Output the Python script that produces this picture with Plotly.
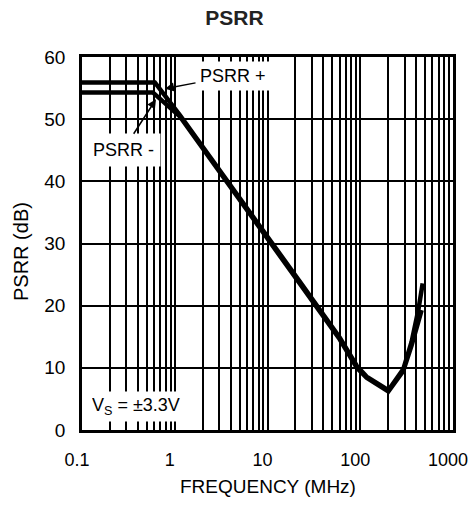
import plotly.graph_objects as go

# Data (frequency in MHz, PSRR in dB)
freq_pos = [0.1, 0.61, 1.14, 2.0, 5.0, 10.0, 22.0, 60.0, 92.0, 117.0, 201.0, 291.0, 358.0, 423.0, 471.0]
psrr_pos = [55.9, 55.9, 50.6, 45.6, 37.3, 31.1, 24.0, 14.9, 10.3, 8.6, 6.4, 9.8, 14.2, 19.3, 23.6]

freq_neg = [0.1, 0.58, 1.14, 2.0, 5.0, 10.0, 22.0, 60.0, 92.0, 117.0, 201.0, 291.0, 358.0, 405.0, 459.0]
psrr_neg = [54.3, 54.3, 50.4, 45.3, 37.0, 30.8, 23.7, 14.6, 10.0, 8.4, 6.2, 9.5, 13.6, 16.6, 19.3]

x_ticks = [0.1, 1, 10, 100, 1000]
x_tick_labels = ["0.1", "1", "10", "100", "1000"]
y_ticks = [0, 10, 20, 30, 40, 50, 60]

FONT = "Liberation Sans, Arial, sans-serif"
PLOT_W = 469 - 82 - 16
PLOT_H = 506 - 57 - 76

fig = go.Figure()
fig.add_trace(go.Scatter(x=freq_pos, y=psrr_pos, mode="lines",
                         line=dict(color="black", width=4.5), name="PSRR +"))
fig.add_trace(go.Scatter(x=freq_neg, y=psrr_neg, mode="lines",
                         line=dict(color="black", width=4.5), name="PSRR -"))

fig.update_layout(
    width=469, height=506,
    margin=dict(l=82, r=16, t=57, b=76, autoexpand=False),
    paper_bgcolor="white", plot_bgcolor="white",
    showlegend=False,
    font=dict(family=FONT, color="black", size=18),
    title=dict(text="<b>PSRR</b>", x=0.5, xanchor="center", y=1 - 18 / 506,
               yanchor="middle", font=dict(size=21, family=FONT, color="#222")),
    xaxis=dict(
        type="log", range=[-1, 3], automargin=False,
        tickvals=x_ticks, ticktext=x_tick_labels,
        showgrid=True, gridcolor="black", gridwidth=1.8,
        showline=True, linecolor="black", linewidth=2.5, mirror="allticks",
        ticks="inside", ticklen=7, tickcolor="black", tickwidth=1.8,
        ticklabelstandoff=12, ticklabeloverflow="allow", ticklabelshift=-5,
        tickfont=dict(size=18),
        minor=dict(dtick="D1", showgrid=True, gridcolor="black", gridwidth=1.8,
                   ticks="inside", ticklen=7, tickcolor="black", tickwidth=1.8),
        zeroline=False,
    ),
    yaxis=dict(
        range=[0, 60], tickvals=y_ticks, automargin=False,
        showgrid=True, gridcolor="black", gridwidth=1.8,
        showline=True, linecolor="black", linewidth=2.5, mirror=True,
        ticks="", ticklabelstandoff=10, tickfont=dict(size=19),
        zeroline=False,
    ),
)

# axis titles
fig.add_annotation(x=0.5, y=-(486 - 430) / PLOT_H, xref="paper", yref="paper",
                   xanchor="center", yanchor="middle", text="FREQUENCY (MHz)",
                   showarrow=False, font=dict(size=19))
fig.add_annotation(x=-(82 - 21) / PLOT_W, y=(430 - 252) / PLOT_H, xref="paper", yref="paper",
                   xanchor="center", yanchor="middle", text="PSRR (dB)", textangle=-90,
                   showarrow=False, font=dict(size=20))

# curve labels
fig.add_annotation(x=-0.105, y=54.9, xref="x", yref="y", text="PSRR +",
                   showarrow=True, arrowhead=2, arrowsize=1.2, arrowwidth=1.5,
                   arrowcolor="black", ax=68, ay=-13, bgcolor="white",
                   borderpad=4, font=dict(size=18))
fig.add_annotation(x=-0.202, y=53.2, xref="x", yref="y", text="PSRR -",
                   showarrow=True, arrowhead=2, arrowsize=1.2, arrowwidth=1.5,
                   arrowcolor="black", ax=-33, ay=51, bgcolor="white",
                   borderpad=6, font=dict(size=18))
fig.add_annotation(x=0.016, y=0.022, xref="paper", yref="paper",
                   xanchor="left", yanchor="bottom",
                   text="V<sub>S</sub> = ±3.3V", showarrow=False,
                   bgcolor="white", width=98, align="left", borderpad=3,
                   font=dict(size=18))

fig.write_html("out.html")
